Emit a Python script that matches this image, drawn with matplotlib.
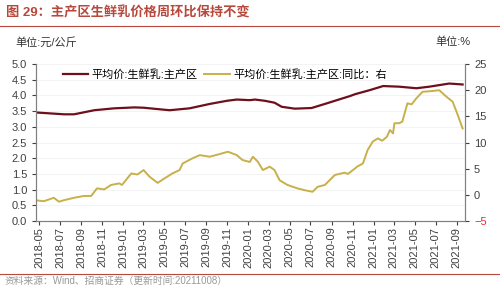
import matplotlib
matplotlib.use("Agg")
import matplotlib.pyplot as plt
import matplotlib.dates as mdates
import pandas as pd

plt.rcParams['font.family'] = ['Liberation Sans', 'Noto Sans CJK SC', 'DejaVu Sans']

# 平均价:生鲜乳:主产区 (元/公斤)
price_dates = ['2018-04-20', '2018-07-13', '2018-08-11', '2018-10-09', '2018-12-06',
               '2019-02-03', '2019-03-02', '2019-04-18', '2019-05-17', '2019-07-14',
               '2019-09-11', '2019-10-31', '2019-11-29', '2020-01-06', '2020-01-21',
               '2020-02-19', '2020-03-18', '2020-04-08', '2020-05-16', '2020-07-04',
               '2020-08-12', '2020-09-10', '2020-10-24', '2020-11-08', '2020-12-21',
               '2021-01-29', '2021-03-17', '2021-05-06', '2021-06-13', '2021-08-10',
               '2021-09-18']
price_values = [3.46, 3.40, 3.40, 3.53, 3.59,
                3.62, 3.61, 3.56, 3.53, 3.59,
                3.73, 3.83, 3.87, 3.85, 3.87,
                3.83, 3.77, 3.64, 3.58, 3.60,
                3.73, 3.83, 3.98, 4.04, 4.17,
                4.30, 4.28, 4.23, 4.28, 4.38,
                4.35]

# 平均价:生鲜乳:主产区:同比 (%)
yoy_dates = ['2018-04-17', '2018-05-15', '2018-06-13', '2018-06-28', '2018-07-13',
             '2018-08-11', '2018-09-09', '2018-09-30', '2018-10-17', '2018-11-07',
             '2018-11-27', '2018-12-21', '2018-12-29', '2019-01-25', '2019-02-12',
             '2019-03-02', '2019-03-19', '2019-04-12', '2019-05-02', '2019-05-25',
             '2019-06-15', '2019-06-24', '2019-07-23', '2019-08-13', '2019-09-11',
             '2019-10-10', '2019-11-03', '2019-11-29', '2019-12-16', '2020-01-06',
             '2020-01-15', '2020-01-30', '2020-02-13', '2020-03-04', '2020-03-18',
             '2020-04-02', '2020-04-25', '2020-05-24', '2020-06-14', '2020-07-07',
             '2020-07-22', '2020-08-12', '2020-09-10', '2020-10-09', '2020-10-18',
             '2020-11-08', '2020-11-14', '2020-12-01', '2020-12-15', '2020-12-30',
             '2021-01-14', '2021-01-26', '2021-02-09', '2021-02-18', '2021-02-27',
             '2021-03-03', '2021-03-17', '2021-03-26', '2021-04-10', '2021-04-22',
             '2021-05-06', '2021-05-24', '2021-06-22', '2021-07-12', '2021-08-02',
             '2021-08-20', '2021-09-04', '2021-09-18']
yoy_values = [-1.0, -1.2, -0.55, -1.3, -1.0,
              -0.55, -0.2, -0.2, 1.25, 1.05,
              1.9, 2.2, 1.9, 4.1, 3.9,
              4.75, 3.5, 2.3, 3.15, 4.1,
              4.75, 6.0, 7.0, 7.6, 7.3,
              7.8, 8.25, 7.6, 6.65, 6.3,
              7.3, 6.3, 4.75, 5.4, 4.75,
              2.8, 1.9, 1.25, 0.9, 0.6,
              1.55, 1.9, 3.8, 4.25, 4.0,
              5.05, 5.4, 6.0, 8.6, 10.2,
              10.8, 10.35, 11.1, 12.4, 11.75,
              13.7, 13.7, 14.0, 17.5, 17.3,
              18.45, 19.7, 19.85, 20.0, 18.75,
              17.8, 15.25, 12.7]

label_price = '平均价:生鲜乳:主产区'
label_yoy = '平均价:生鲜乳:主产区:同比：右'

fig = plt.figure(figsize=(5, 2.86), dpi=100)
ax = fig.add_axes([0.072, 0.227, 0.858, 0.549])
ax2 = ax.twinx()

tick_color = '#404040'
l1, = ax.plot(pd.to_datetime(price_dates), price_values, color='#6e0f1c', lw=1.6, label=label_price)
l2, = ax2.plot(pd.to_datetime(yoy_dates), yoy_values, color='#c8b04a', lw=1.4, label=label_yoy)

ax.set_ylim(0, 5)
ax.set_yticks([i * 0.5 for i in range(11)])
ax.yaxis.set_major_formatter(plt.FormatStrFormatter('%.1f'))
ax2.set_ylim(-5, 25)
ax2.set_yticks(range(-5, 26, 5))

ax.set_xlim(pd.Timestamp('2018-04-22'), pd.Timestamp('2021-09-25'))
ax.xaxis.set_major_locator(mdates.MonthLocator(bymonth=[1, 3, 5, 7, 9, 11]))
ax.xaxis.set_major_formatter(mdates.DateFormatter('%Y-%m'))
for lab in ax.get_xticklabels():
    lab.set_rotation(90)

for a in (ax, ax2):
    a.spines['top'].set_visible(False)
    for s in ('left', 'right', 'bottom'):
        a.spines[s].set_color('#808080')
        a.spines[s].set_linewidth(0.8)
    a.tick_params(labelsize=8, colors=tick_color, length=3, width=0.8)
ax.tick_params(axis='x', pad=1)
for lab in ax2.get_yticklabels():
    if lab.get_text().startswith('-') or lab.get_text().startswith('−'):
        lab.set_color('#e03030')
ax2.get_yticklabels()[0].set_color('#e03030')

ax.grid(axis='y', color='#eeeeee', lw=0.5)
ax.set_axisbelow(True)

ax.legend(handles=[l1, l2], loc='upper center', bbox_to_anchor=(0.44, 1.03), ncol=2,
          frameon=False, fontsize=8, handlelength=2.3, handletextpad=0.3, columnspacing=0.6)

# title and notes
fig.text(0.012, 0.955, '图 29：主产区生鲜乳价格周环比保持不变', color='#b8483c',
         fontsize=9.5, fontweight='bold', va='center')
fig.add_artist(plt.Line2D([0.0, 1.0], [0.908, 0.908], color='#b8483c', lw=0.8))
fig.text(0.03, 0.853, '单位:元/公斤', fontsize=8, color='#333333', va='center')
fig.text(0.87, 0.853, '单位:%', fontsize=8, color='#333333', va='center')
fig.add_artist(plt.Line2D([0.0, 1.0], [0.042, 0.042], color='#b8483c', lw=0.8))
fig.text(0.01, 0.018, '资料来源：Wind、招商证券（更新时间:20211008）', fontsize=7,
         color='#999999', va='center')

fig.savefig('out.png', dpi=100)
